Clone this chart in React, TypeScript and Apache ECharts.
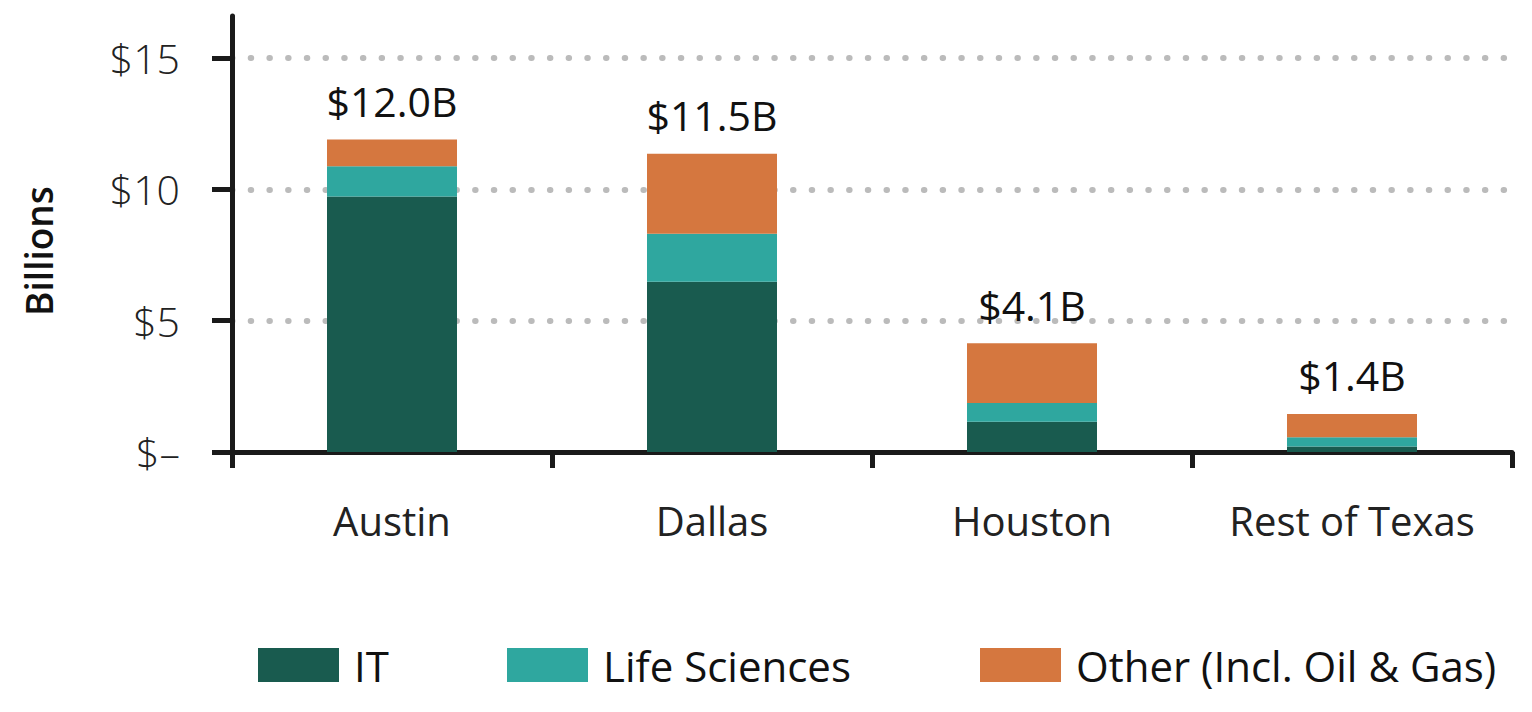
import React, { useEffect, useRef } from "react";
import * as echarts from "echarts";

const categories = ["Austin", "Dallas", "Houston", "Rest of Texas"];
const itValues = [9.73, 6.48, 1.15, 0.21];
const lifeSciValues = [1.15, 1.83, 0.72, 0.35];
const otherValues = [1.02, 3.05, 2.27, 0.89];
const totalLabels = ["$12.0B", "$11.5B", "$4.1B", "$1.4B"];
const yTicks = [0, 5, 10, 15];
const seriesNames = ["IT", "Life Sciences", "Other (Incl. Oil & Gas)"];

const COLORS = ["#195b4f", "#2fa79f", "#d5773f"];
const FONT = "'Open Sans', 'Noto Sans', sans-serif";
const AXIS = "#1a1a1a";

export default function App() {
  const ref = useRef<HTMLDivElement>(null);
  useEffect(() => {
    if (!ref.current) return;
    const chart = echarts.init(ref.current, null, { renderer: "svg" });
    const legendLefts = [258, 507, 980];
    chart.setOption({
      animation: false,
      grid: { left: 232, right: 20, top: 16, bottom: 260, containLabel: false },
      legend: seriesNames.map((n, i) => ({
        data: [n],
        left: legendLefts[i],
        top: 644,
        padding: 0,
        icon: "rect",
        itemWidth: 81,
        itemHeight: 34,
        selectedMode: false,
        textStyle: { fontFamily: FONT, fontSize: 42, color: "#111", padding: [0, 0, 0, 10] },
      })),
      graphic: [
        {
          type: "text",
          x: 38,
          y: 251,
          rotation: Math.PI / 2,
          style: {
            text: "Billions",
            fontFamily: FONT,
            fontSize: 37,
            fontWeight: 600,
            fill: "#111",
            align: "center",
            verticalAlign: "middle",
          },
        },
      ],
      xAxis: {
        type: "category",
        data: categories,
        axisLine: { show: true, lineStyle: { color: AXIS, width: 5 } },
        axisTick: { show: true, length: 16, lineStyle: { color: AXIS, width: 5 } },
        axisLabel: { fontFamily: FONT, fontSize: 40, color: "#222", margin: 48 },
      },
      yAxis: {
        type: "value",
        min: 0,
        max: 16.6,
        interval: 5,
        axisLine: { show: true, lineStyle: { color: AXIS, width: 5 } },
        axisTick: { show: true, inside: false, length: 20, customValues: yTicks, lineStyle: { color: AXIS, width: 5 } },
        axisLabel: {
          customValues: yTicks,
          fontFamily: FONT,
          fontSize: 41,
          fontWeight: 300,
          color: "#222",
          margin: 52,
          formatter: (v: number) => (v === 0 ? "$–" : "$" + v),
        },
        splitLine: {
          show: true,
          showMinLine: false,
          lineStyle: { color: "#bbbbbb", width: 6, type: [0.5, 18.2], cap: "round" },
        },
      },
      series: [
        { name: seriesNames[0], type: "bar", stack: "t", data: itValues, barWidth: 130, itemStyle: { color: COLORS[0] } },
        { name: seriesNames[1], type: "bar", stack: "t", data: lifeSciValues, barWidth: 130, itemStyle: { color: COLORS[1] } },
        {
          name: seriesNames[2],
          type: "bar",
          stack: "t",
          data: otherValues,
          barWidth: 130,
          itemStyle: { color: COLORS[2] },
          label: {
            show: true,
            position: "top",
            distance: 18,
            fontFamily: FONT,
            fontSize: 41,
            fontWeight: 500,
            color: "#111",
            formatter: (p: any) => totalLabels[p.dataIndex],
          },
        },
      ],
    });
    return () => chart.dispose();
  }, []);
  return <div ref={ref} style={{ width: 1532, height: 712, position: "absolute", left: 0, top: 0 }} />;
}
